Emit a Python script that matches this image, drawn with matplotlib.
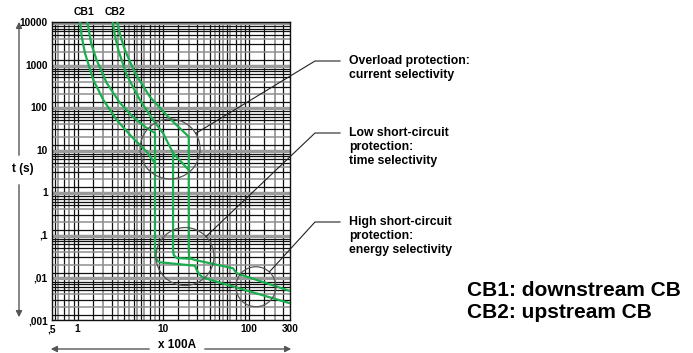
import matplotlib
matplotlib.use("Agg")
import matplotlib.pyplot as plt
from matplotlib.patches import Circle
from matplotlib.transforms import ScaledTranslation

plt.rcParams['font.family'] = ['Liberation Sans', 'DejaVu Sans']
plt.rcParams['font.weight'] = 'bold'

# trip curves, current in x 100A, time in s
cb1_slow_i = [1.30, 1.45, 1.67, 2.19, 3.13, 4.43, 6.4, 8.0, 8.0, 8.1, 8.5, 9.1, 23.4, 24.5, 26.7, 29.2, 300]
cb1_slow_t = [10000, 3000, 1280, 369, 125, 58.7, 32.4, 24.7, 0.042, 0.031, 0.025, 0.0227, 0.0188, 0.0149, 0.0114, 0.00985, 0.00247]
cb1_fast_i = [1.07, 1.12, 1.22, 1.53, 2.0, 2.86, 4.28, 6.4, 8.0]
cb1_fast_t = [10000, 4500, 1870, 434, 147, 50, 20.2, 9.0, 4.8]

cb2_slow_i = [2.91, 3.15, 3.57, 4.68, 7.0, 10.9, 13.0, 19.8, 19.8, 20.0, 20.5, 23.4, 65, 71.6, 300]
cb2_slow_t = [10000, 4800, 2200, 634, 173, 65.3, 45.5, 20.2, 0.042, 0.031, 0.0281, 0.0257, 0.0164, 0.0125, 0.0048]
cb2_fast_i = [2.57, 2.72, 2.99, 3.74, 5.35, 7.59, 9.91, 13.0, 13.0, 13.2, 14.3, 20.5]
cb2_fast_t = [10000, 5000, 2200, 569, 147, 49.9, 24.7, 8.37, 0.045, 0.034, 0.0285, 0.0275]
cb2_link_i = [13.0, 19.8]
cb2_link_t = [8.37, 3.34]

xticks = [0.5, 1, 10, 100, 300]
xtick_labels = [',5', '1', '10', '100', '300']
yticks = [0.001, 0.01, 0.1, 1, 10, 100, 1000, 10000]
ytick_labels = [',001', ',01', ',1', '1', '10', '100', '1000', '10000']

green = '#1aae4f'
W, H = 693, 353

fig = plt.figure(figsize=(W / 100, H / 100), dpi=100)
ax = fig.add_axes([51.7 / W, 1 - 320 / H, (290 - 51.7) / W, (320 - 22) / H])
ax.set_xscale('log')
ax.set_yscale('log')
ax.set_xlim(0.5, 300)
ax.set_ylim(0.001, 10000)

# dense paper grid
xg_black = [1, 1.5, 2.5, 3.5, 4.5, 5.5, 7, 9]
xg_gray = [2, 3, 4, 5, 6, 8]
for dec in [0.1, 1, 10, 100]:
    for k in xg_black:
        v = k * dec
        if 0.5 < v < 300:
            ax.axvline(v, color='#111111', lw=0.9, zorder=1)
    for k in xg_gray:
        v = k * dec
        if 0.5 < v < 300:
            ax.axvline(v, color='#8f8f8f', lw=1.2, zorder=1)

yg_black = [1.3, 3, 5, 6, 7, 8]
yg_gray = [2, 4]
yg_band = [0.95, 9]
for e in range(-3, 4):
    dec = 10.0 ** e
    for k in yg_black:
        ax.axhline(k * dec, color='#111111', lw=0.9, zorder=1)
    for k in yg_gray:
        ax.axhline(k * dec, color='#909090', lw=1.1, zorder=1)
for e in range(-2, 5):
    dec = 10.0 ** (e - 1)
    for k in yg_band:
        ax.axhline(k * dec, color='#9a9a9a', lw=1.6, zorder=1)
    ax.axhline(10.0 ** e, color='#111111', lw=0.8, zorder=1)

for xs, ts in [(cb1_slow_i, cb1_slow_t), (cb1_fast_i, cb1_fast_t),
               (cb2_slow_i, cb2_slow_t), (cb2_fast_i, cb2_fast_t),
               (cb2_link_i, cb2_link_t)]:
    ax.plot(xs, ts, color=green, lw=1.6, solid_joinstyle='round', zorder=3)

ax.set_xticks(xticks)
ax.set_xticklabels(xtick_labels)
ax.set_yticks(yticks)
ax.set_yticklabels(ytick_labels)
ax.minorticks_off()
ax.tick_params(length=0, labelsize=7.3, pad=3)
for s in ax.spines.values():
    s.set_color('#111111')
    s.set_linewidth(1.0)

# curve names above the plot
ax.text(1.18, 1.035, 'CB1', transform=ax.get_xaxis_transform(), ha='center', va='center', fontsize=7.5)
ax.text(2.74, 1.035, 'CB2', transform=ax.get_xaxis_transform(), ha='center', va='center', fontsize=7.5)

# highlighted zones with leader lines
zones = [
    ((12, 10.4), 30, 61, 'Overload protection:\ncurrent selectivity'),
    ((17.9, 0.031), 29, 133, 'Low short-circuit\nprotection:\ntime selectivity'),
    ((120, 0.00605), 20, 222, 'High short-circuit\nprotection:\nenergy selectivity'),
]
for (cx, cy), r, ly, label in zones:
    circ = Circle((0, 0), r / 100, transform=fig.dpi_scale_trans + ScaledTranslation(cx, cy, ax.transData),
                  fill=False, ec='#555555', lw=0.9, zorder=4)
    ax.add_patch(circ)
    px, py = ax.transData.transform((cx, cy))
    ex, ey = 315, H - ly
    dx, dy = ex - px, ey - py
    n = (dx ** 2 + dy ** 2) ** 0.5
    sx, sy = px + dx / n * r, py + dy / n * r
    fig.add_artist(plt.Line2D([sx / W, ex / W, 340 / W], [sy / H, ey / H, ey / H],
                              color='#222222', lw=0.8))
    fig.text(349 / W, 1 - (ly - 6) / H, label, ha='left', va='top', fontsize=8.8, linespacing=1.2)

# axis arrows
arrow_kw = dict(arrowstyle='-|>', color='#555555', lw=1.0, mutation_scale=9)
ax.annotate('', xy=(19, H - 19), xytext=(19, H - 158), xycoords='figure pixels', textcoords='figure pixels', arrowprops=arrow_kw)
ax.annotate('', xy=(19, H - 320), xytext=(19, H - 182), xycoords='figure pixels', textcoords='figure pixels', arrowprops=arrow_kw)
fig.text(23 / W, 1 - 169 / H, 't (s)', ha='center', va='center', fontsize=8.5)

ax.annotate('', xy=(48, H - 349), xytext=(152, H - 349), xycoords='figure pixels', textcoords='figure pixels', arrowprops=arrow_kw)
ax.annotate('', xy=(294, H - 349), xytext=(202, H - 349), xycoords='figure pixels', textcoords='figure pixels', arrowprops=arrow_kw)
fig.text(177 / W, 1 - 345.5 / H, 'x 100A', ha='center', va='center', fontsize=8.5)

fig.text(467 / W, 1 - 290 / H, 'CB1: downstream CB', ha='left', va='center', fontsize=15)
fig.text(467 / W, 1 - 313 / H, 'CB2: upstream CB', ha='left', va='center', fontsize=15)

fig.savefig('out.png', dpi=100)
